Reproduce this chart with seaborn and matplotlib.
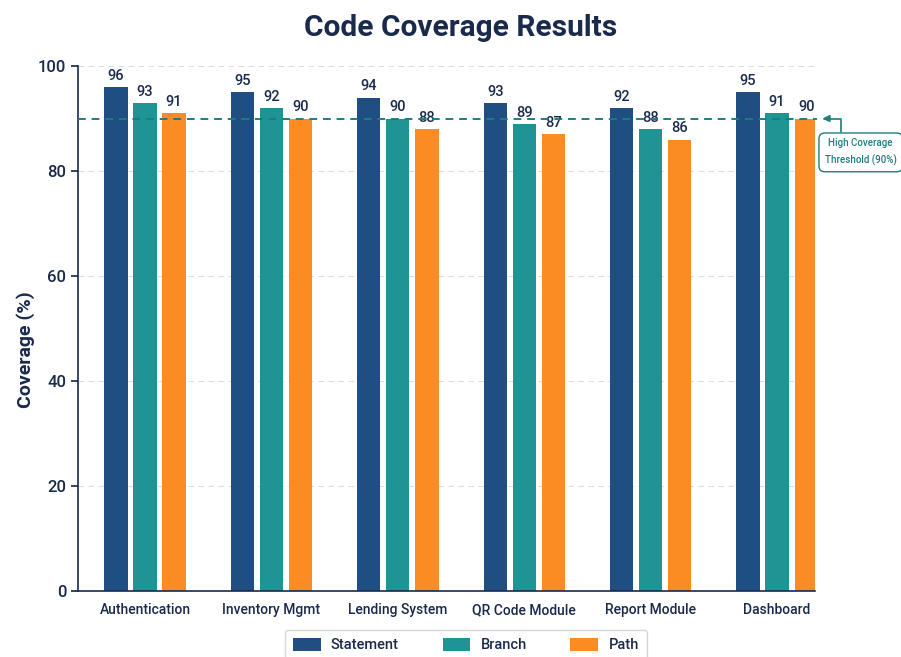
import matplotlib
matplotlib.use("Agg")
import matplotlib.pyplot as plt
import seaborn as sns
import pandas as pd

modules = ["Authentication", "Inventory Mgmt", "Lending System", "QR Code Module", "Report Module", "Dashboard"]
statement = [96, 95, 94, 93, 92, 95]
branch = [93, 92, 90, 89, 88, 91]
path = [91, 90, 88, 87, 86, 90]
series_names = ["Statement", "Branch", "Path"]
colors = ["#1f4e82", "#1e9494", "#fb8c24"]
threshold = 90
yticks = [0, 20, 40, 60, 80, 100]

rows = []
for name, vals in zip(series_names, [statement, branch, path]):
    for m, v in zip(modules, vals):
        rows.append({"Module": m, "Type": name, "Coverage": v})
df = pd.DataFrame(rows)

sns.set_theme(style="white")
plt.rcParams["font.family"] = ["Roboto", "DejaVu Sans"]

navy = "#1a2a4c"
teal = "#1f7c80"
fig = plt.figure(figsize=(9.01, 6.57), dpi=100)
ax = fig.add_axes([0.0866, 0.1005, 0.818, 0.799])

sns.barplot(data=df, x="Module", y="Coverage", hue="Type", palette=colors,
            width=0.69, gap=0.2, ax=ax, legend=True, saturation=1, linewidth=0)

for c in ax.containers:
    ax.bar_label(c, fmt="%d", padding=3, fontsize=10.5, color=navy, fontweight="medium")

ax.set_ylim(0, 100)
ax.set_xlim(-0.53, 5.30)
ax.set_yticks(yticks)
ax.yaxis.grid(True, linestyle=(0, (5, 4)), color="#dcdcdc", linewidth=0.8)
ax.set_axisbelow(True)
for s in ["top", "right"]:
    ax.spines[s].set_visible(False)
for s in ["left", "bottom"]:
    ax.spines[s].set_color(navy)
    ax.spines[s].set_linewidth(1.2)
ax.tick_params(axis="y", left=True, length=5, color=navy, labelsize=12, labelcolor=navy)
ax.tick_params(axis="x", bottom=False, labelsize=10, labelcolor=navy, pad=3)
for t in ax.get_yticklabels():
    t.set_fontweight("medium")
for t in ax.get_xticklabels():
    t.set_fontweight("medium")

ax.set_xlabel("")
ax.set_ylabel("Coverage (%)", fontsize=14, fontweight="bold", color=navy)
ax.yaxis.set_label_coords(-0.058, 0.46)
fig.suptitle("Code Coverage Results", x=0.511, y=0.978, fontsize=21.5, fontweight="bold", color=navy)

ax.axhline(threshold, xmax=1.003, color=teal, linestyle=(0, (4, 3)), linewidth=1.4, zorder=5, clip_on=False)

ax.annotate("High Coverage\nThreshold (90%)", xy=(1.01, threshold), xycoords=("axes fraction", "data"),
            xytext=(1.062, 83.6), textcoords=("axes fraction", "data"),
            fontsize=7, color=teal, ha="center", va="center", annotation_clip=False,
            linespacing=1.7, fontweight="medium",
            bbox=dict(boxstyle="round,pad=0.6", fc="white", ec=teal, lw=1),
            arrowprops=dict(arrowstyle="-|>", color=teal, lw=1.2, mutation_scale=10,
                            connectionstyle="angle,angleA=90,angleB=0,rad=0",
                            shrinkA=0, shrinkB=0, relpos=(0.22, 1.0)))

handles, labels = ax.get_legend_handles_labels()
ax.legend_.remove()
leg = fig.legend(handles, labels, loc="center", bbox_to_anchor=(0.517, 0.018), ncol=3,
                 frameon=True, fontsize=10.5, handlelength=1.9, handleheight=1.0,
                 handletextpad=0.7, columnspacing=3.0, borderpad=0.55, fancybox=True)
leg.get_frame().set_edgecolor("#cccccc")
for t in leg.get_texts():
    t.set_color(navy)
    t.set_fontweight("medium")

fig.savefig("out.png", dpi=100)
